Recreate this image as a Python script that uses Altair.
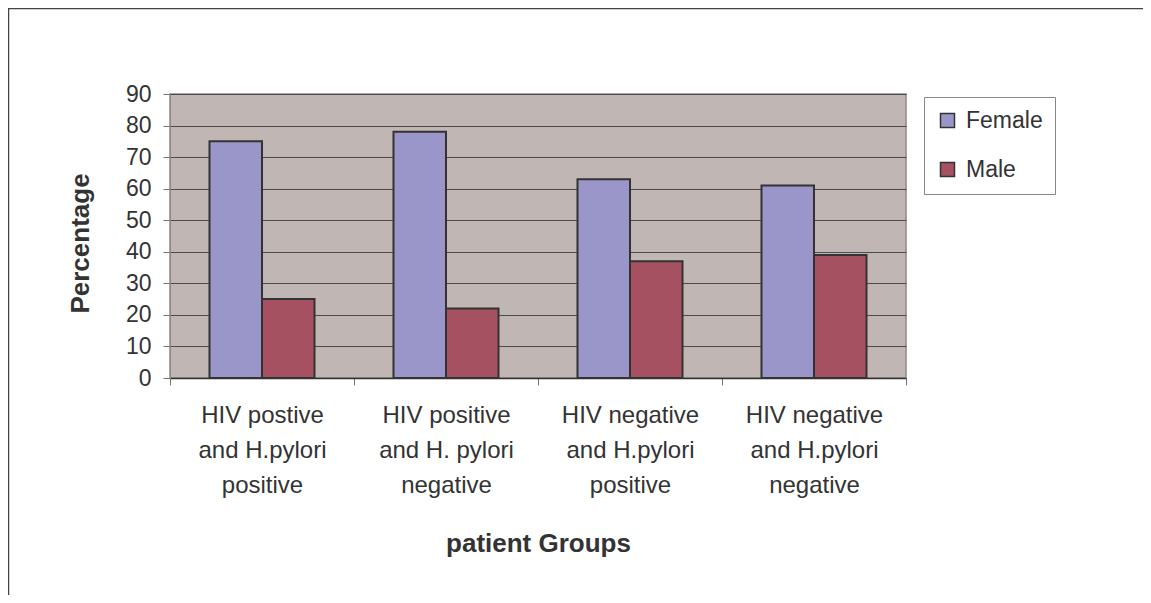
import altair as alt
import pandas as pd

groups = [
    "HIV postive|and H.pylori|positive",
    "HIV positive|and H. pylori|negative",
    "HIV negative|and H.pylori|positive",
    "HIV negative|and H.pylori|negative",
]
series = ["Female", "Male"]
female = [75, 78, 63, 61]
male = [25, 22, 37, 39]
colors = ["#9B96C9", "#A65161"]

rows = []
for g, f, m in zip(groups, female, male):
    rows.append({"group": g, "sex": "Female", "value": f})
    rows.append({"group": g, "sex": "Male", "value": m})
df = pd.DataFrame(rows)

FONT = "Liberation Sans"
TXT = "#333333"

bars = alt.Chart(df).mark_bar(stroke="#333333", strokeWidth=2).encode(
    x=alt.X("group:N", sort=groups,
            scale=alt.Scale(paddingInner=0, paddingOuter=0),
            axis=alt.Axis(title="patient Groups", labelAngle=0,
                          labelExpr="split(datum.label, '|')",
                          labelFontSize=24, labelColor=TXT, labelFont=FONT,
                          labelLineHeight=35, labelBaseline="top", labelPadding=18,
                          labelLimit=300,
                          tickBand="extent", tickSize=7, tickColor="#777777",
                          domainColor="#333333", domainWidth=1.5,
                          titleFont=FONT, titleFontSize=26, titleFontWeight="bold",
                          titleColor=TXT, titleY=165, titleBaseline="middle")),
    xOffset=alt.XOffset("sex:N", sort=series,
                        scale=alt.Scale(paddingInner=0, paddingOuter=0.752)),
    y=alt.Y("value:Q", scale=alt.Scale(domain=[0, 90]),
            axis=alt.Axis(title="Percentage", values=list(range(0, 91, 10)),
                          labelFontSize=23, labelColor=TXT, labelFont=FONT,
                          labelPadding=12, tickSize=7, tickColor="#777777",
                          domainColor="#8f8786", gridColor="#4a4a4a", gridWidth=1,
                          titleFont=FONT, titleFontSize=26, titleFontWeight="bold",
                          titleColor=TXT, titleAngle=270, titleX=-90, titleY=149,
                          titleAlign="center", titleBaseline="middle")),
    color=alt.Color("sex:N", sort=series,
                    scale=alt.Scale(domain=series, range=colors),
                    legend=alt.Legend(title=None, orient="none", legendX=754, legendY=3,
                                      symbolType="square", symbolSize=196,
                                      symbolStrokeColor="#333333", symbolStrokeWidth=1.5,
                                      labelFontSize=23, labelFont=FONT, labelColor=TXT,
                                      labelOffset=7, rowPadding=25, padding=12,
                                      strokeColor="#888888", fillColor="#ffffff")),
)

frame_top = alt.Chart(pd.DataFrame({"a": [0]})).mark_rule(color="#444444", strokeWidth=1.5).encode(
    x=alt.value(-162), x2=alt.value(973), y=alt.value(-85.5))
frame_left = alt.Chart(pd.DataFrame({"a": [0]})).mark_rule(color="#444444", strokeWidth=1.5).encode(
    x=alt.value(-161.5), y=alt.value(-86), y2=alt.value(509))

chart = alt.layer(frame_top, frame_left, bars).properties(
    width=736, height=284,
    autosize=alt.AutoSizeParams(type="none"),
    padding={"left": 162, "top": 86, "right": 237, "bottom": 217},
    background="#ffffff",
).configure_view(fill="#C0B7B4", stroke="#8f8786", strokeWidth=1.5)

chart.save("out.html", embed_options={"renderer": "svg", "actions": False})
